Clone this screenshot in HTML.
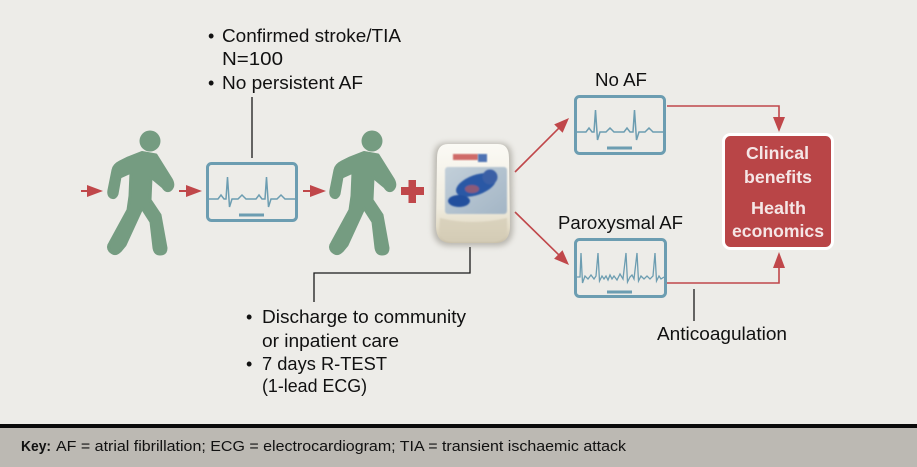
<!DOCTYPE html>
<html><head><meta charset="utf-8"><style>
html,body{margin:0;padding:0;background:#edece8;}
svg{display:block;}
</style></head><body>
<svg width="917" height="467" viewBox="0 0 917 467" xmlns="http://www.w3.org/2000/svg" font-family="'Liberation Sans', Arial, sans-serif">
<defs>
<linearGradient id="body" x1="0" y1="0" x2="0" y2="1">
<stop offset="0" stop-color="#fbfaf5"/><stop offset="0.65" stop-color="#efebde"/><stop offset="0.85" stop-color="#e2dbc6"/><stop offset="1" stop-color="#c9c0aa"/>
</linearGradient>
<linearGradient id="scr" x1="0" y1="0" x2="1" y2="1">
<stop offset="0" stop-color="#c2cfd9"/><stop offset="1" stop-color="#a3b5c5"/>
</linearGradient>
<filter id="bl" x="-30%" y="-30%" width="160%" height="160%"><feGaussianBlur stdDeviation="3"/></filter>
<filter id="bl1"><feGaussianBlur stdDeviation="0.9"/></filter>
<path id="walker" d="M128,158 L142,152.5 L156,155 L171,179 Q175,186 170,190 Q166,192 163,187 L151,177 L150,200 L160,215 L166,248 Q166,254 160,254 Q155,254 154,248 L151,222 L142,208 L125,245 L120,251 Q115,256 110,251 Q107,247 110,243 L128,210 L130,196 L131,172 L120,177 L117,194 Q115,199 111,197 Q108,195 109,190 L113,170 Q114,165 120,162 Z"/>
</defs>
<rect x="0" y="0" width="917" height="467" fill="#edece8"/>

<!-- key bar -->
<rect x="0" y="424" width="917" height="4" fill="#0a0a0a"/>
<rect x="0" y="428" width="917" height="39" fill="#bcb9b3"/>
<text x="21" y="451" font-size="15" font-weight="bold" fill="#111" textLength="30" lengthAdjust="spacingAndGlyphs">Key:</text>
<text x="56" y="451" font-size="15" fill="#111" textLength="570" lengthAdjust="spacingAndGlyphs">AF = atrial fibrillation; ECG = electrocardiogram; TIA = transient ischaemic attack</text>

<!-- texts -->
<g font-size="18" fill="#111">
<text x="208" y="42">•</text>
<text x="222" y="42" textLength="179" lengthAdjust="spacingAndGlyphs">Confirmed stroke/TIA</text>
<text x="222" y="65" textLength="61" lengthAdjust="spacingAndGlyphs">N=100</text>
<text x="208" y="89">•</text>
<text x="222" y="89" textLength="141" lengthAdjust="spacingAndGlyphs">No persistent AF</text>

<text x="246" y="323">•</text>
<text x="262" y="323" textLength="204" lengthAdjust="spacingAndGlyphs">Discharge to community</text>
<text x="262" y="347" textLength="137" lengthAdjust="spacingAndGlyphs">or inpatient care</text>
<text x="246" y="370">•</text>
<text x="262" y="370" textLength="125" lengthAdjust="spacingAndGlyphs">7 days R-TEST</text>
<text x="262" y="392" textLength="105" lengthAdjust="spacingAndGlyphs">(1-lead ECG)</text>

<text x="595" y="86" textLength="52" lengthAdjust="spacingAndGlyphs">No AF</text>
<text x="558" y="229" textLength="125" lengthAdjust="spacingAndGlyphs">Paroxysmal AF</text>
<text x="657" y="340" textLength="130" lengthAdjust="spacingAndGlyphs">Anticoagulation</text>
</g>

<!-- black connector lines -->
<g stroke="#1a1a1a" stroke-width="1.3" fill="none">
<line x1="252" y1="97" x2="252" y2="158"/>
<polyline points="470,247 470,273 314,273 314,302"/>
<line x1="694" y1="289" x2="694" y2="321"/>
</g>

<!-- red horizontal arrows -->
<g fill="#c0474a" stroke="#c0474a">
<line x1="81" y1="191" x2="90" y2="191" stroke-width="2"/>
<polygon points="87,185 87,197 103,191" stroke="none"/>
<line x1="179" y1="191" x2="188" y2="191" stroke-width="2"/>
<polygon points="186,185 186,197 202,191" stroke="none"/>
<line x1="303" y1="191" x2="312" y2="191" stroke-width="2"/>
<polygon points="310,185 310,197 326,191" stroke="none"/>
<rect x="401" y="187" width="23" height="8" stroke="none"/>
<rect x="408.5" y="180" width="7.5" height="23" stroke="none"/>
</g>

<!-- walkers -->
<g fill="#759c81" stroke="#759c81" stroke-width="3" stroke-linejoin="round">
<circle cx="150" cy="141" r="10.5" stroke="none"/>
<use href="#walker"/>
</g>
<g transform="translate(222,0)" fill="#759c81" stroke="#759c81" stroke-width="3" stroke-linejoin="round">
<circle cx="150" cy="141" r="10.5" stroke="none"/>
<use href="#walker"/>
</g>

<!-- ECG box 1 -->
<g fill="none" stroke="#6c9db1">
<rect x="207.5" y="163.5" width="89" height="57" rx="4" stroke-width="3"/>
<path d="M209,199 L218,199 L221,195 L224,199 L226,199 L227.5,177 L229.5,207 L232,199 L238,199 L242,195 L246,199 L256,199 L259,195 L262,199 L265,199 L266.5,177 L268.5,207 L271,199 L277,199 L281,195 L285,199 L295,199" stroke-width="1.5"/>
<line x1="239" y1="215" x2="264" y2="215" stroke-width="3"/>
</g>
<!-- No AF box -->
<g fill="none" stroke="#6c9db1" transform="translate(368,-67)">
<rect x="207.5" y="163.5" width="89" height="57" rx="4" stroke-width="3"/>
<path d="M209,199 L218,199 L221,195 L224,199 L226,199 L227.5,177 L229.5,207 L232,199 L238,199 L242,195 L246,199 L256,199 L259,195 L262,199 L265,199 L266.5,177 L268.5,207 L271,199 L277,199 L281,195 L285,199 L295,199" stroke-width="1.5"/>
<line x1="239" y1="215" x2="264" y2="215" stroke-width="3"/>
</g>
<!-- Paroxysmal box -->
<g fill="none" stroke="#6c9db1">
<rect x="575.5" y="239.5" width="90" height="57" rx="4" stroke-width="3"/>
<path d="M577,277 L580,277 L581,253 L582.5,283 L585,276 L588,279 L591,275 L594,279 L596,276 L598,253 L599.5,281 L602,276 L604,279 L606,276 L608,280 L610,275 L612,279 L614,276 L617,280 L620,274 L623,279 L626,253 L627.5,282 L630,277 L632,275 L634,279 L637,253 L638.5,281 L641,276 L644,279 L647,276 L650,279 L653,276 L655,253 L656.5,281 L659,276 L661,279 L664,277" stroke-width="1.3"/>
<line x1="607" y1="292" x2="632" y2="292" stroke-width="3"/>
</g>

<!-- red connectors right -->
<g stroke="#c0474a" fill="none" stroke-width="1.6">
<polyline points="667,106 779,106 779,119"/>
<polyline points="667,283 779,283 779,266"/>
<line x1="515" y1="172" x2="561" y2="126"/>
<line x1="515" y1="212" x2="561" y2="257"/>
</g>
<g fill="#c0474a">
<polygon points="773,117 785,117 779,132"/>
<polygon points="773,268 785,268 779,252"/>
<polygon points="569,118 562.6,132.8 554.2,124.4"/>
<polygon points="569,265 554.1,258.8 562.5,250.2"/>
</g>

<!-- red box -->
<rect x="723.5" y="134.5" width="109" height="114" rx="7" fill="#b94547" stroke="#ffffff" stroke-width="3"/>
<g font-size="17.5" font-weight="bold" fill="#f5e6e6" text-anchor="middle">
<text x="777.5" y="159" textLength="63" lengthAdjust="spacingAndGlyphs">Clinical</text>
<text x="778" y="183" textLength="68" lengthAdjust="spacingAndGlyphs">benefits</text>
<text x="778.5" y="214" textLength="55" lengthAdjust="spacingAndGlyphs">Health</text>
<text x="778" y="237" textLength="92" lengthAdjust="spacingAndGlyphs">economics</text>
</g>

<!-- device -->
<g>
<path d="M446,143 L500,143 Q512,143 512,158 L513,228 Q513,246 496,246 L450,246 Q433,246 433,228 L434,158 Q434,143 446,143 Z" fill="#8e8a80" filter="url(#bl)" opacity="0.55"/>
<path d="M448,144 L498,144 Q509,144 509,158 L510,226 Q510,243 495,243 L451,243 Q436,243 436,226 L437,158 Q437,144 448,144 Z" fill="url(#body)"/>
<path d="M440,218 Q472,226 507,218 L507,230 Q505,242 493,242 L453,242 Q440,242 439,230 Z" fill="#d6ceb8" filter="url(#bl1)" opacity="0.8"/>
<rect x="445" y="167" width="62" height="47" rx="3" fill="url(#scr)" filter="url(#bl1)"/>
<rect x="453" y="154" width="25" height="6" fill="#cf6a68" filter="url(#bl1)"/>
<rect x="478" y="154" width="9" height="8" fill="#4d72b3" filter="url(#bl1)"/>
<g filter="url(#bl1)">
<ellipse cx="476" cy="185" rx="21" ry="10" transform="rotate(-20 476 185)" fill="#2c58a5"/>
<ellipse cx="459" cy="201" rx="11" ry="6" fill="#24509d"/>
<circle cx="490" cy="177" r="7.5" fill="#3a5fa5"/>
<ellipse cx="472" cy="189" rx="7" ry="4" fill="#8c5a78"/>
</g>
</g>
</svg>
</body></html>
